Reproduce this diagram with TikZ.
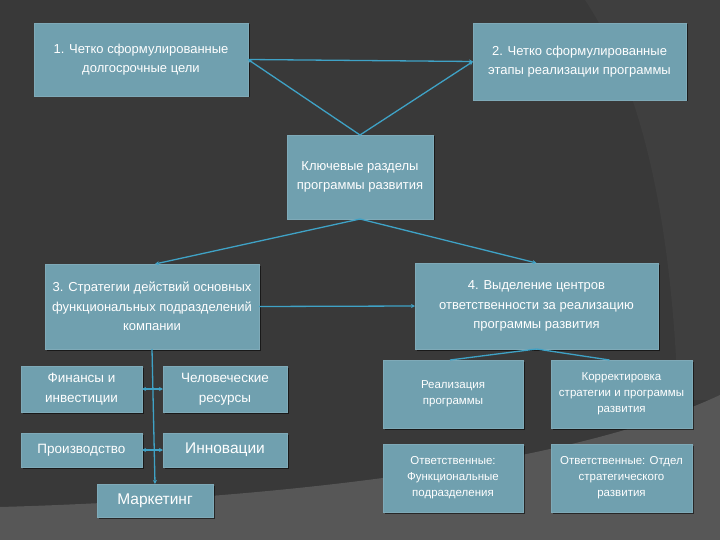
\documentclass[tikz,border=0pt]{standalone}
\usepackage{fontspec}
\setmainfont{Liberation Sans}
\usetikzlibrary{arrows.meta,shadows}
\definecolor{bgdark}{HTML}{393939}
\definecolor{bgwedge}{HTML}{3F3F3F}
\definecolor{bglow}{HTML}{575757}
\definecolor{boxfill}{HTML}{70A0AF}
\definecolor{boxedge}{HTML}{7FAAB8}
\definecolor{linkcol}{HTML}{3FA2C6}
\tikzset{
  box/.style={fill=boxfill, draw=boxedge, line width=0.8pt, text=white, align=center,
    inner sep=2pt, outer sep=0pt,
    drop shadow={shadow xshift=1.5pt, shadow yshift=-1.5pt, opacity=0.55, fill=black}},
  big/.style={font=\fontsize{13}{19.5}\selectfont},
  mid/.style={font=\fontsize{13.5}{20}\selectfont},
  large/.style={font=\fontsize{15.5}{20}\selectfont},
  small/.style={font=\fontsize{11.5}{16}\selectfont},
  link/.style={draw=linkcol, line width=1.3pt},
  tip/.style={-{Stealth[length=4pt,width=4pt]}},
  tips/.style={{Stealth[length=4pt,width=4pt]}-{Stealth[length=4pt,width=4pt]}}
}
\begin{document}
\begin{tikzpicture}[x=1pt,y=-1pt]
% background
\fill[bgdark] (0,0) rectangle (720,540);
\fill[bgwedge] (585,0) .. controls (645,90) and (672,230) .. (678,400) -- (720,400) -- (720,0) -- cycle;
\fill[bglow] (0,507) .. controls (250,500) and (560,470) .. (720,395) -- (720,540) -- (0,540) -- cycle;
\useasboundingbox (0,0) rectangle (720,540);

% main boxes
\node[box,big,minimum width=214pt,minimum height=73pt] (b1) at (141,59.5)
  {1. Четко сформулированные\\долгосрочные цели};
\node[box,big,minimum width=213pt,minimum height=77pt] (b2) at (579.5,61.5)
  {2. Четко сформулированные\\этапы реализации программы};
\node[box,big,minimum width=146pt,minimum height=84pt] (c) at (360,177)
  {Ключевые разделы\\программы развития};
\node[box,big,minimum width=214pt,minimum height=85pt] (b3) at (152,306.5)
  {3. Стратегии действий основных\\функциональных подразделений\\компании};
\node[box,big,minimum width=243pt,minimum height=86pt] (b4) at (536.5,306)
  {4. Выделение центров\\ответственности за реализацию\\программы развития};

% left sub boxes
\node[box,mid,minimum width=121pt,minimum height=46pt] (fin) at (81.5,389)
  {Финансы и\\инвестиции};
\node[box,mid,minimum width=124pt,minimum height=46pt] (hum) at (225,389)
  {Человеческие\\ресурсы};
\node[box,mid,minimum width=121pt,minimum height=34pt] (prod) at (81.5,450)
  {Производство};
\node[box,large,minimum width=124pt,minimum height=34pt] (inn) at (225,450)
  {Инновации};
\node[box,large,minimum width=116pt,minimum height=33pt] (mark) at (155,500.5)
  {Маркетинг};

% right sub boxes
\node[box,small,minimum width=140pt,minimum height=68pt] (real) at (453,394)
  {Реализация\\программы};
\node[box,small,minimum width=141pt,minimum height=68pt] (korr) at (621.5,394)
  {Корректировка\\стратегии и программы\\развития};
\node[box,small,minimum width=140pt,minimum height=68pt] (otv1) at (453,478)
  {Ответственные:\\Функциональные\\подразделения};
\node[box,small,minimum width=141pt,minimum height=68pt] (otv2) at (621.5,478)
  {Ответственные: Отдел\\стратегического\\развития};

% connectors
\coordinate (ctop) at (c.north);
\draw[link,tip] (b1.east) -- (b2.west);
\draw[link,tip] (ctop) -- (b1.east);
\draw[link,tip] (ctop) -- (b2.west);
\draw[link,tip] (c.south) -- ([xshift=3pt]b3.north);
\draw[link,tip] (c.south) -- (b4.north);
\draw[link,tip] (b3.east) -- (b4.west);
\draw[link,tip] (b3.south) -- (mark.north);
\draw[link,tips] (fin.east) -- (hum.west);
\draw[link,tips] (prod.east) -- (inn.west);
\draw[link] (b4.south) -- ([xshift=-3pt]real.north);
\draw[link] (b4.south) -- ([xshift=-12pt]korr.north);
\end{tikzpicture}
\end{document}
